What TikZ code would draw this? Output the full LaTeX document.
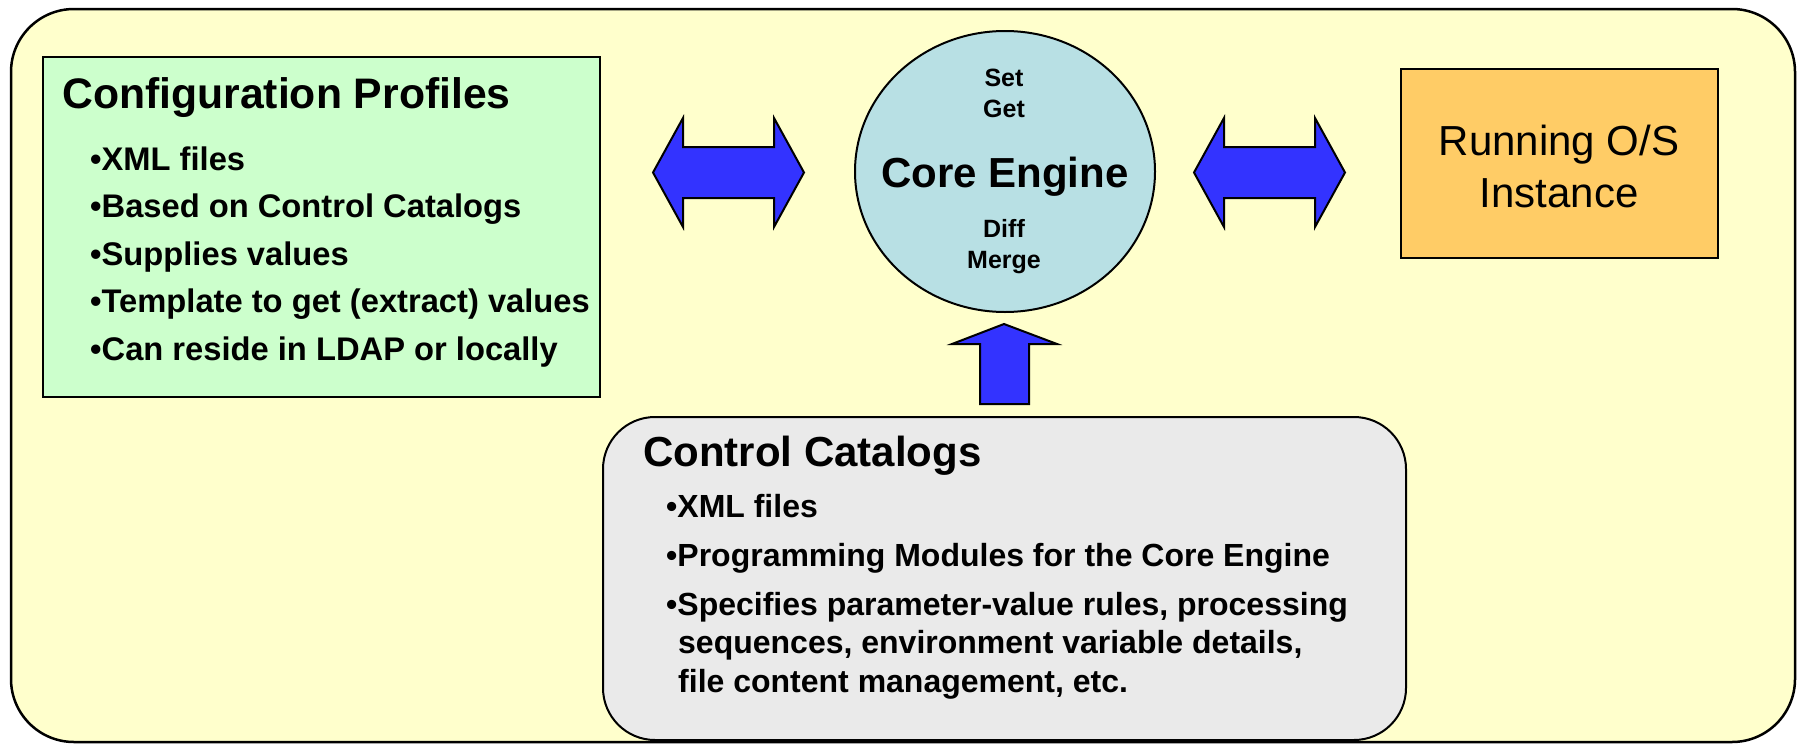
\documentclass[tikz,border=0pt]{standalone}
\usepackage{fontspec}
\setmainfont{Liberation Sans}
\usetikzlibrary{shapes.geometric}

\definecolor{paper}{RGB}{255,255,204}
\definecolor{profilegreen}{RGB}{204,255,204}
\definecolor{engineblue}{RGB}{184,224,228}
\definecolor{osorange}{RGB}{255,204,102}
\definecolor{cataloggray}{RGB}{234,234,234}
\definecolor{arrowblue}{RGB}{51,51,255}

\tikzset{
  panel/.style={draw=black, line width=2pt, inner sep=0pt},
  bigarrow/.style={draw=black, line width=2pt, fill=arrowblue},
  heading/.style={anchor=base west, inner sep=0pt, font=\fontsize{42}{50}\selectfont\bfseries},
  item/.style={anchor=base west, inner sep=0pt, font=\fontsize{32}{38}\selectfont\bfseries},
  profileheading/.style={heading, font=\fontsize{42.7}{50}\selectfont\bfseries},
  profileitem/.style={item, font=\fontsize{32.7}{38}\selectfont\bfseries},
  verb/.style={anchor=base, inner sep=0pt, font=\fontsize{25}{30}\selectfont\bfseries},
  plain/.style={anchor=base, inner sep=0pt, font=\fontsize{42}{50}\selectfont},
}

\begin{document}
\begin{tikzpicture}[x=1pt,y=-1pt]
\useasboundingbox (0,0) rectangle (1797,744);

% background panel
\node[panel, line width=2.5pt, fill=paper, rounded corners=63pt,
      minimum width=1784pt, minimum height=733pt] (frame) at (903,375.5) {};

% configuration profiles
\node[panel, fill=profilegreen, minimum width=557pt, minimum height=340pt] (profiles) at (321.5,227) {};
\node[profileheading] (profilesTitle) at (62,108) {Configuration Profiles};
\node[profileitem] (p1) at (90,170) {•XML files};
\node[profileitem] (p2) at (90,217.5) {•Based on Control Catalogs};
\node[profileitem] (p3) at (90,265) {•Supplies values};
\node[profileitem] (p4) at (90,312.5) {•Template to get (extract) values};
\node[profileitem] (p5) at (90,360) {•Can reside in LDAP or locally};

% core engine
\node[draw=black, line width=2pt, fill=engineblue, ellipse, inner sep=0pt,
      minimum width=300pt, minimum height=281pt] (engine) at (1005,171.5) {};
\node[verb] (eSet) at (1004,86) {Set};
\node[verb] (eGet) at (1004,117) {Get};
\node[anchor=base, inner sep=0pt, font=\fontsize{42}{50}\selectfont\bfseries] (eName) at (1005,187) {Core Engine};
\node[verb] (eDiff) at (1004,237) {Diff};
\node[verb] (eMerge) at (1004,268) {Merge};

% running operating system
\node[panel, fill=osorange, minimum width=317pt, minimum height=189pt] (os) at (1559.5,163.5) {};
\node[plain] (os1) at (1559,155) {Running O/S};
\node[plain] (os2) at (1559,207) {Instance};

% control catalogs
\node[panel, fill=cataloggray, rounded corners=52pt,
      minimum width=803pt, minimum height=323pt] (catalogs) at (1004.5,578.5) {};
\node[heading] (catalogsTitle) at (643,466) {Control Catalogs};
\node[item] (c1) at (666,517) {•XML files};
\node[item] (c2) at (666,566) {•Programming Modules for the Core Engine};
\node[item] (c3) at (666,615) {•Specifies parameter-value rules, processing};
\node[item] (c4) at (678,653.5) {sequences, environment variable details,};
\node[item] (c5) at (678,692) {file content management, etc.};

% block arrows between the parts
\coordinate (linkL) at (728.5,172.5);
\coordinate (linkR) at (1269.5,172.5);
\coordinate (linkU) at (1004.5,364);

\draw[bigarrow, shift={(linkL)}]
  (-75.5,0) -- (-45.5,-54.5) -- (-45.5,-25.5) -- (45.5,-25.5) -- (45.5,-54.5)
  -- (75.5,0) -- (45.5,54.5) -- (45.5,25.5) -- (-45.5,25.5) -- (-45.5,54.5) -- cycle;
\draw[bigarrow, shift={(linkR)}]
  (-75.5,0) -- (-45.5,-54.5) -- (-45.5,-25.5) -- (45.5,-25.5) -- (45.5,-54.5)
  -- (75.5,0) -- (45.5,54.5) -- (45.5,25.5) -- (-45.5,25.5) -- (-45.5,54.5) -- cycle;
\draw[bigarrow, shift={(linkU)}]
  (-0.5,-40) -- (52.5,-20) -- (24.5,-20) -- (24.5,40) -- (-24.5,40)
  -- (-24.5,-20) -- (-52.5,-20) -- cycle;
\end{tikzpicture}
\end{document}
